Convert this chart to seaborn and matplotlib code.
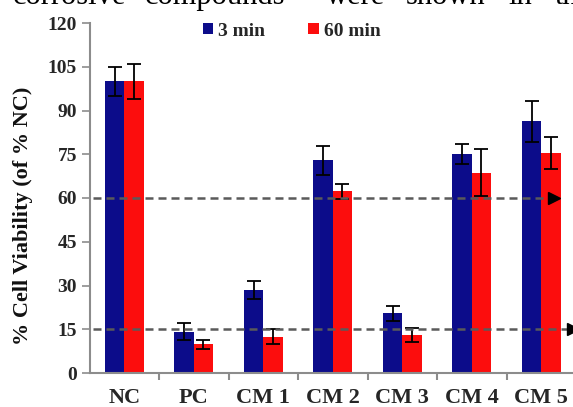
import numpy as np
import pandas as pd
import matplotlib
matplotlib.use("Agg")
import matplotlib.pyplot as plt
from matplotlib.patches import Patch
from matplotlib.ticker import FixedLocator
import seaborn as sns

# ---- data ----
categories = ["NC", "PC", "CM 1", "CM 2", "CM 3", "CM 4", "CM 5"]
series_names = ["3 min", "60 min"]
vals_3min = [100.0, 14.2, 28.5, 73.0, 20.5, 75.0, 86.3]
err_3min = [5.0, 3.0, 3.0, 5.0, 2.5, 3.5, 7.0]
vals_60min = [100.0, 9.9, 12.5, 62.3, 13.0, 68.7, 75.3]
err_60min = [6.0, 1.5, 2.5, 2.5, 2.3, 8.0, 5.5]
thresholds = [60, 15]
yticks = list(range(0, 121, 15))
top_words = ["corrosive", "compounds", "were", "shown", "in", "the"]

colors = {"3 min": "#0c0c8a", "60 min": "#fc0d0d"}

df = pd.DataFrame({
    "compound": categories * 2,
    "time": [series_names[0]] * len(categories) + [series_names[1]] * len(categories),
    "value": vals_3min + vals_60min,
})
errs = {series_names[0]: err_3min, series_names[1]: err_60min}
vals = {series_names[0]: vals_3min, series_names[1]: vals_60min}

sns.set_theme(style="white")
plt.rcParams["font.family"] = ["Liberation Serif", "DejaVu Serif"]

W, H = 573, 407
fig = plt.figure(figsize=(W / 100, H / 100), dpi=100)
ax = fig.add_axes([89.5 / W, (H - 373) / H, (576 - 89.5) / W, 350 / H])

sns.barplot(data=df, x="compound", y="value", hue="time", order=categories,
            hue_order=series_names, palette=colors, width=0.56, gap=0,
            errorbar=None, linewidth=0, edgecolor="none", ax=ax, legend=False,
            saturation=1)

for cont, name in zip(ax.containers, series_names):
    xs = [p.get_x() + p.get_width() / 2 for p in cont.patches]
    ax.errorbar(xs, vals[name], yerr=errs[name], fmt="none", ecolor="black",
                elinewidth=1.3, capsize=5, capthick=1.3, zorder=3)

# reference lines with arrows
arrow_ends = [6.19, 6.46]
for t, xe in zip(thresholds, arrow_ends):
    ax.plot([-0.45, xe - 0.08], [t, t], color="#5a5a5a", lw=1.8,
            linestyle=(0, (3.2, 2.0)), zorder=4, clip_on=False)
    ax.plot([xe], [t], marker=">", color="black", markersize=9, zorder=5,
            clip_on=False)

ax.set_ylim(0, 120)
ax.set_xlim(-0.5, 6.5)
ax.yaxis.set_major_locator(FixedLocator(yticks))
ax.set_yticklabels([str(v) for v in yticks], fontsize=14, fontweight="bold")
ax.set_xticks(range(len(categories)))
ax.set_xticklabels(categories, fontsize=16, fontweight="bold")
ax.xaxis.set_minor_locator(FixedLocator(np.arange(0.5, 6.0, 1.0)))
ax.tick_params(axis="x", which="major", length=0, pad=11)
ax.tick_params(axis="x", which="minor", length=5, width=1.5, color="#8c8c8c", direction="out", bottom=True)
ax.tick_params(axis="y", which="major", length=6, width=1.2, color="#8c8c8c", direction="out", left=True, pad=3)

for s in ["top", "right"]:
    ax.spines[s].set_visible(False)
for s in ["left", "bottom"]:
    ax.spines[s].set_color("#8c8c8c")
    ax.spines[s].set_linewidth(1.5)

ax.set_xlabel("")
ax.set_ylabel("% Cell Viability (of % NC)", fontsize=16, fontweight="bold", color="#111111")
ax.yaxis.set_label_coords(-56 / (576 - 89.5), 0.45)

handles = [Patch(facecolor=colors[n], edgecolor="none") for n in series_names]
fig.legend(handles, series_names, loc="center", bbox_to_anchor=(291.5 / W, 1 - 31 / H),
           ncol=2, frameon=False, handlelength=0.55, handleheight=0.55,
           handletextpad=0.25, columnspacing=2.2,
           prop={"family": "Liberation Serif", "weight": "bold", "size": 14})

# cut-off line of text from the page above the chart
word_x = [13, 145, 326, 406, 508, 555]
for w, x in zip(top_words, word_x):
    fig.text(x / W, 1 - 4 / H, w, fontsize=22, family="Liberation Serif",
             ha="left", va="baseline", color="black")

fig.savefig("out.png", dpi=100)
